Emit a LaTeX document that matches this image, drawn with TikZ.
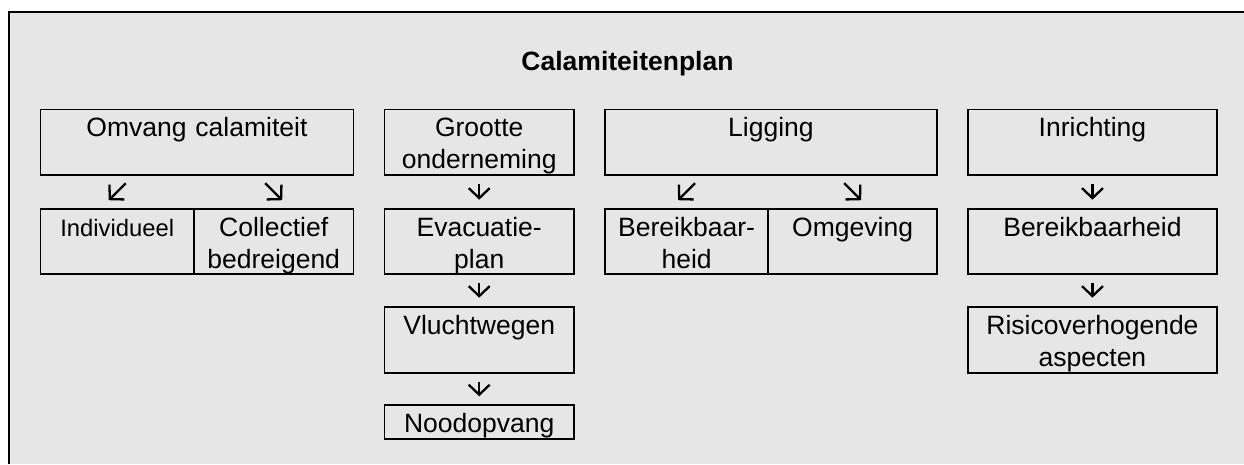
\documentclass[tikz,border=0pt]{standalone}
\usepackage{fontspec}
\setmainfont{Liberation Sans}
\usetikzlibrary{arrows.meta,calc}
\newcommand\bodyfont{\fontsize{26.5}{32}\selectfont}
\newcommand\smallbodyfont{\fontsize{23.8}{30}\selectfont}
\definecolor{bg}{RGB}{230,230,230}
\tikzset{
  box/.style={draw, line width=1.9pt, inner sep=0pt, anchor=north west,
    align=center, text height=27.5pt, font=\bodyfont},
  arr/.style={line width=2.3pt, -{Straight Barb[length=10pt,width=21pt]}},
  down/.style={arr, shorten <=8pt, shorten >=8pt},
}
\begin{document}
\begin{tikzpicture}[x=1pt,y=-1pt]
\useasboundingbox (0,0) rectangle (1244,464);
\fill[white] (0,0) rectangle (1244,464);
\fill[bg] (8.7,12) rectangle (1244,464);
\draw[line width=2pt] (8.7,464) -- (8.7,12) -- (1244,12);

\node[font=\bodyfont\bfseries, anchor=base, inner sep=0pt] (title) at (627.5,70.7) {Calamiteitenplan};

% column 1
\node[box, text width=313pt, text depth=38pt] (omv) at (39.5,108.5) {Omvang calamiteit};
\node[box, text width=153.5pt, text depth=37.5pt, font=\smallbodyfont] (ind) at (39.5,207.7) {Individueel};
\node[box, text width=159.5pt, text depth=37.5pt] (col) at (193,207.7) {Collectief\\bedreigend};

% column 2
\node[box, text width=189.5pt, text depth=38pt] (gro) at (383.5,108.5) {Grootte\\onderneming};
\node[box, text width=189.5pt, text depth=37.5pt] (eva) at (383.5,207.7) {Evacuatie-\\plan};
\node[box, text width=189.5pt, text depth=38.8pt] (vlu) at (383.5,305.7) {Vluchtwegen};
\node[box, text width=189.5pt, text depth=6.5pt] (noo) at (383.5,404.3) {Noodopvang};

% column 3
\node[box, text width=332pt, text depth=38pt] (lig) at (604,108.5) {Ligging};
\node[box, text width=163.3pt, text depth=37.5pt] (ber) at (604,207.7) {Bereikbaar-\\heid};
\node[box, text width=168.7pt, text depth=37.5pt] (omg) at (767.3,207.7) {Omgeving};

% column 4
\node[box, text width=249pt, text depth=38pt] (inr) at (967,108.5) {Inrichting};
\node[box, text width=249pt, text depth=37.5pt] (bek) at (967,207.7) {Bereikbaarheid};
\node[box, text width=249pt, text depth=38.8pt] (ris) at (967,305.7) {Risicoverhogende\\aspecten};

% arrows
\draw[arr] ($(ind.north)+(8.5,-24.5)$) -- ($(ind.north)+(-8.5,-7.5)$);
\draw[arr] ($(col.north)+(-8.5,-24.5)$) -- ($(col.north)+(8.5,-7.5)$);
\draw[arr] ($(ber.north)+(8.5,-24.5)$) -- ($(ber.north)+(-8.5,-7.5)$);
\draw[arr] ($(omg.north)+(-8.5,-24.5)$) -- ($(omg.north)+(8.5,-7.5)$);
\draw[down] (gro.south) -- (eva.north);
\draw[down] (eva.south) -- (vlu.north);
\draw[down] (vlu.south) -- (noo.north);
\draw[down] (inr.south) -- (bek.north);
\draw[down] (bek.south) -- (ris.north);
\end{tikzpicture}
\end{document}
